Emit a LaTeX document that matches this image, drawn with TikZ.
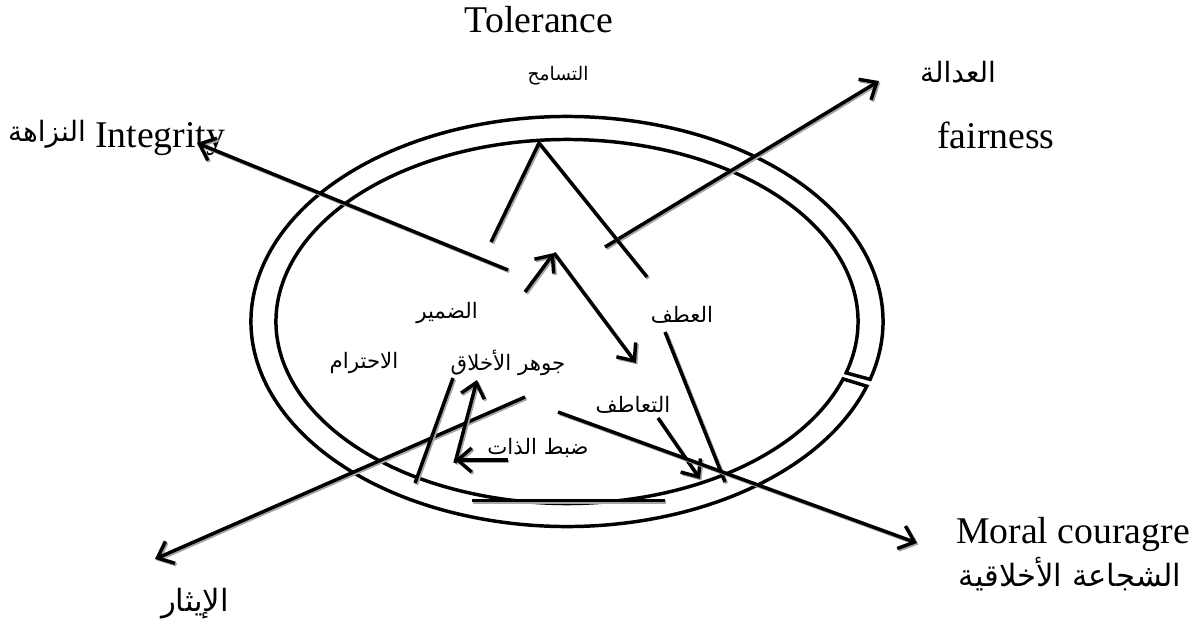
\documentclass[tikz,border=0pt]{standalone}
\usepackage{fontspec}
\setmainfont{Liberation Serif}
\newfontfamily\arabicfont[Script=Arabic]{DejaVu Sans}
\TeXXeTstate=1
\usetikzlibrary{arrows.meta,calc}
\newcommand{\artxt}[1]{{\arabicfont\beginR #1\endR}}
\tikzset{
  shline/.style={line width=2.6pt, preaction={draw=black!35, line width=2.6pt, transform canvas={shift={(1.1pt,-1.1pt)}}}},
  arr/.style={shline, -{Straight Barb[length=10.5pt,width=18pt,line width=2.6pt]}},
  ring/.style={line width=2.6pt},
  entxt/.style={font=\fontsize{28.3}{32}\selectfont, inner sep=0pt},
  arbig/.style={font=\fontsize{21}{25}\selectfont, inner sep=0pt},
  arbigg/.style={font=\fontsize{23}{27}\selectfont, inner sep=0pt},
  arin/.style={font=\fontsize{16}{19}\selectfont, inner sep=0pt},
  arsm/.style={font=\fontsize{14}{17}\selectfont, inner sep=0pt}
}
\begin{document}
\begin{tikzpicture}[x=0.75pt,y=-0.75pt]
\useasboundingbox (0,0) rectangle (1190,629);
% ring with a small break on the right
\coordinate (c) at (567,321.5);
\draw[ring] (c) ++(18.4:316 and 205) arc[start angle=18.4, end angle=376.4, x radius=316, y radius=205]
  -- ($(c)+(376.4:291 and 182)$) arc[start angle=376.4, end angle=18.4, x radius=291, y radius=182] -- cycle;
% texts
\node[entxt, anchor=base] (tol) at (539,32) {Tolerance};
\node[arsm] (tas) at (558,76) {\artxt{التسامح}};
\node[entxt, anchor=base west] (integ) at (95,147) {Integrity};
\node[arbig] (naz) at (47,134) {\artxt{النزاهة}};
\node[arbig] (adl) at (958,72) {\artxt{العدالة}};
\node[entxt, anchor=base west] (fair) at (937,148) {fairness};
\node[arbigg] (ith) at (195,604) {\artxt{الإيثار}};
\node[entxt, anchor=base east] (moral) at (1190,543) {Moral couragre};
\node[arbigg] (shj) at (1070,574) {\artxt{الشجاعة الأخلاقية}};
\node[arin] (atf) at (682,315) {\artxt{العطف}};
\node[arin] (dam) at (447,313) {\artxt{الضمير}};
\node[arin] (jwh) at (508,363) {\artxt{جوهر الأخلاق}};
\node[arin] (ihr) at (364,363) {\artxt{الاحترام}};
\node[arin] (taa) at (633,405) {\artxt{التعاطف}};
\node[arin] (dbt) at (538,448) {\artxt{ضبط الذات}};
% coordinates
\coordinate (i1) at (508,270); \coordinate (i2) at (197,143);
\coordinate (f1) at (605,247); \coordinate (f2) at (879,81);
\coordinate (t1) at (491,242); \coordinate (tA) at (539,143); \coordinate (t2) at (647,277);
\coordinate (u1) at (525,292); \coordinate (uA) at (554,253); \coordinate (u2) at (636,363);
\coordinate (a1) at (665,332); \coordinate (a2) at (725,482);
\coordinate (e1) at (658,418); \coordinate (e2) at (700,479);
\coordinate (m1) at (558,412); \coordinate (m2) at (917,543);
\coordinate (h1) at (525,397); \coordinate (h2) at (155,559);
\coordinate (r1) at (453,378); \coordinate (r2) at (415,483);
\coordinate (j1) at (455,463); \coordinate (j2) at (477,380);
\coordinate (d1) at (508,460); \coordinate (d2) at (455,460);
\coordinate (b1) at (472,500.5); \coordinate (b2) at (665,500.5);
% connectors
\draw[arr] (i1) -- (i2);
\draw[arr] (f1) -- (f2);
\draw[shline] (t1) -- (tA) -- (t2);
\draw[arr] (u1) -- (uA);
\draw[arr] (uA) -- (u2);
\draw[shline] (a1) -- (a2);
\draw[arr] (e1) -- (e2);
\draw[arr] (m1) -- (m2);
\draw[arr] (h1) -- (h2);
\draw[shline] (r1) -- (r2);
\draw[arr] (j1) -- (j2);
\draw[arr] (d1) -- (d2);
\draw[shline] (b1) -- (b2);
\end{tikzpicture}
\end{document}
